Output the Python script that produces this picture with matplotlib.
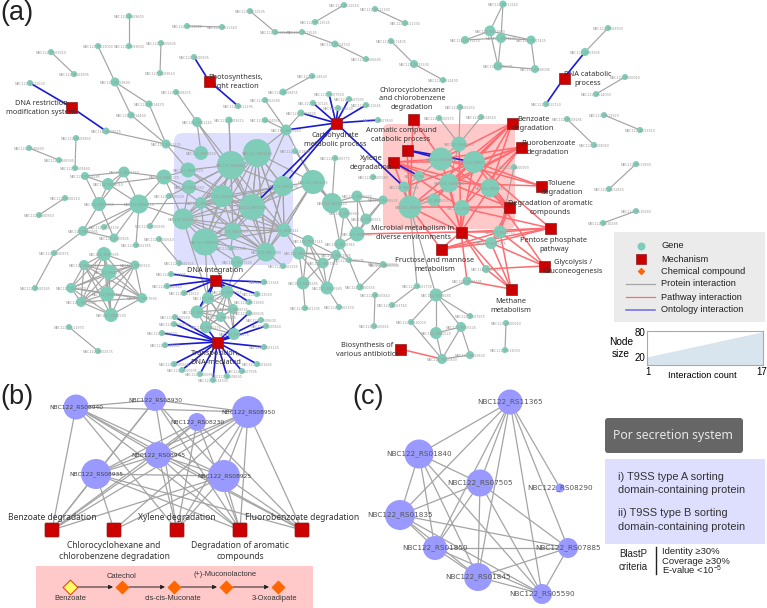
import itertools
import matplotlib
matplotlib.use('Agg')
import matplotlib.pyplot as plt
from matplotlib.collections import LineCollection
from matplotlib.patches import FancyBboxPatch, Rectangle

# Panel (a): gene nodes, grouped by neighbourhood. Positions in pixels.
far_names = ['09605', '09600', '13000', '13890', '05605', '09610', '03910', '03905', '12530', '14470',
             '14460', '08515', '11225', '09465', '09460', '06890', '06995', '11880', '11340', '00935',
             '11295', '08255', '01245', '09415', '04930', '02280', '14630', '08455', '12535', '13525',
             '13535', '12540', '13545', '04730', '06895', '11100', '11335', '11405', '12390', '12400',
             '09240', '07930', '07935', '10125', '11645', '08630', '09835', '07890', '01890', '00775',
             '00580']
far_x = [129, 129, 98, 115, 161, 160, 51, 74, 30, 149, 131, 106, 166, 76, 75, 29, 59, 187, 222, 194,
         238, 176, 197, 229, 265, 265, 312, 283, 250, 275, 315, 344, 302, 335, 366, 375, 405, 391, 414, 443,
         286, 329, 349, 313, 366, 338, 301, 378, 295, 335, 373]
far_y = [16, 46, 46, 82, 43, 73, 52, 74, 83, 104, 115, 131, 144, 138, 168, 148, 160, 26, 27, 57,
         106, 92, 122, 120, 120, 100, 76, 92, 11, 32, 22, 5, 32, 44, 59, 9, 23, 41, 64, 80,
         130, 94, 99, 103, 105, 108, 113, 120, 151, 158, 177]
far_size = [6, 6, 6, 9, 6, 6, 6, 6, 6, 7, 7, 7, 9, 6, 6, 6, 6, 6, 6, 6,
            6, 6, 10, 7, 6, 6, 6, 7, 6, 6, 6, 6, 6, 7, 6, 6, 6, 6, 8, 6,
            11, 6, 6, 6, 6, 6, 7, 6, 6, 6, 6]

right_names = ['11240', '12600', '01265', '11250', '07425', '08005', '08095', '03930', '03935', '12750',
               '00040', '14030', '13920', '13910', '09185', '09040', '13830', '12825', '10280', '10285']
right_x = [503, 490, 501, 465, 531, 498, 535, 608, 585, 546, 625, 596, 604, 640, 567, 594, 636, 609, 636, 603]
right_y = [4, 31, 38, 40, 40, 66, 69, 28, 52, 104, 77, 94, 115, 130, 119, 145, 164, 189, 211, 223]
right_size = [7, 11, 10, 8, 9, 9, 8, 6, 8, 6, 6, 6, 6, 6, 6, 6, 6, 6, 6, 6]

left_names = ['06285', '01360', '03010', '01355', '00615', '06310', '00910', '00905', '03190', '00805',
              '00895', '01785', '00640', '00275', '00315', '07695', '03245', '07700', '00310', '00185',
              '01920', '00123', '07860', '07695b', '00590', '11970', '02675', '00300']
left_x = [85, 124, 108, 99, 139, 65, 39, 83, 104, 114, 150, 136, 159, 54, 179, 104, 84, 109, 135, 35,
          71, 107, 81, 142, 111, 69, 98, 169]
left_y = [176, 172, 184, 204, 204, 198, 215, 231, 227, 238, 226, 245, 239, 253, 263, 254, 265, 272, 265, 288,
          288, 294, 302, 298, 315, 327, 351, 196]
left_size = [8, 11, 12, 14, 19, 6, 6, 10, 6, 9, 6, 6, 6, 6, 6, 14, 10, 15, 9, 6,
             10, 15, 10, 10, 14, 6, 6, 6]

purple_names = ['01845', '01840', '01850', '05670', '05650', '01375', '01270', '06080', '07505', '01390',
                '11185', '01835', '07885', '00141', '05590', '07900', '07525', '01380', '01925']
purple_x = [231, 257, 201, 188, 189, 164, 201, 222, 252, 283, 313, 183, 233, 284, 205, 266, 237, 231, 283]
purple_y = [165, 153, 153, 170, 187, 177, 203, 196, 207, 186, 182, 219, 231, 230, 242, 252, 262, 248, 266]
purple_size = [28, 28, 14, 15, 14, 15, 12, 22, 26, 20, 24, 21, 17, 14, 27, 19, 12, 5, 6]

mid_names = ['06925', '06930', '06940', '06915', '06920', '06945', '01145', '01280', '07340', '01535',
             '08505', '00955', '03285', '08285', '01195', '01370']
mid_x = [332, 357, 344, 366, 357, 340, 308, 299, 323, 336, 349, 383, 303, 327, 305, 339]
mid_y = [203, 196, 213, 219, 234, 244, 241, 253, 263, 255, 260, 264, 283, 288, 308, 307]
mid_size = [20, 11, 11, 11, 15, 11, 12, 13, 11, 10, 6, 6, 13, 13, 6, 6]

red_names = ['08950', '08925', '08945', '08940', '08935', '08930', '08230', '05655', '05325', '05255',
             '00975', '14640', '00970', '06580', '06175', '00515', '04305', '00661', '08505b', '00580b']
red_x = [441, 474, 449, 490, 410, 462, 459, 434, 419, 460, 439, 481, 514, 500, 491, 486, 467, 404, 383, 384]
red_y = [159, 162, 183, 188, 207, 208, 144, 200, 176, 107, 118, 117, 167, 232, 243, 269, 281, 187, 200, 265]
red_size = [23, 22, 19, 19, 23, 16, 15, 13, 10, 6, 6, 6, 6, 13, 12, 8, 9, 11, 9, 6]

low_names = ['01730', '03740', '09285', '10050', '07975', '00126', '00520', '00830', '09830', '00555',
             '00840', '00845', '00910b', '13030']
low_x = [417, 392, 436, 411, 470, 461, 436, 442, 470, 360, 375, 374, 506, 505]
low_y = [286, 305, 295, 322, 316, 327, 333, 359, 355, 287, 295, 326, 323, 350]
low_size = [6, 6, 13, 6, 6, 10, 12, 10, 8, 7, 6, 6, 6, 6]

dna_names = ['11905', '00840b', '12612', '11365b', '13540', '08765', '01305', '11880b', '08755', '07975b',
             '08685', '00605', '08600', '00860', '00580c', '00590b', '06870', '00260', '08175', '03125',
             '00560', '00995', '00950', '14300', '08680', '07995', '01665', '06275']
dna_x = [171, 167, 184, 264, 257, 227, 208, 249, 233, 197, 221, 249, 261, 266, 175, 174, 162, 165, 234, 264,
         174, 182, 200, 213, 227, 242, 257, 206]
dna_y = [274, 286, 293, 282, 294, 292, 298, 302, 309, 312, 317, 313, 320, 326, 317, 324, 333, 345, 334, 347,
         364, 370, 374, 380, 376, 371, 364, 327]
dna_size = [6, 6, 6, 6, 6, 13, 12, 6, 10, 13, 10, 6, 6, 6, 6, 6, 6, 6, 12, 6,
            6, 6, 6, 6, 6, 6, 6, 12]

# Mechanism nodes of panel (a)
mech_names = ['restriction', 'photo', 'carb', 'rna', 'chloro', 'benzoate', 'fluoro', 'aromatic', 'xylene',
              'toluene', 'degr', 'microbial', 'pentose', 'glyco', 'fructose', 'methane', 'biosyn',
              'integration', 'transposition']
mech_x = [71, 209, 336, 564, 413, 512, 521, 407, 393, 541, 509, 461, 550, 544, 441, 511, 400, 215, 217]
mech_y = [107, 81, 123, 78, 119, 123, 147, 150, 162, 186, 207, 232, 228, 266, 249, 289, 349, 280, 342]

mech_labels = ['DNA restriction\nmodification system', 'Photosynthesis,\nlight reaction',
               'Carbohydrate\nmetabolic process', 'RNA catabolic\nprocess',
               'Chlorocyclohexane\nand chlorobenzene\ndegradation', 'Benzoate\ndegradation',
               'Fluorobenzoate\ndegradation', 'Aromatic compound\ncatabolic process', 'Xylene\ndegradation',
               'Toluene\ndegradation', 'Degradation of aromatic\ncompounds',
               'Microbial metabolism in\ndiverse environments', 'Pentose phosphate\npathway',
               'Glycolysis /\nGluconeogenesis', 'Fructose and mannose\nmetabolism', 'Methane\nmetabolism',
               'Biosynthesis of\nvarious antibiotics', 'DNA integration', 'Transposition,\nDNA-mediated']
mech_label_x = [41, 236, 335, 588, 412, 533, 548, 401, 371, 562, 550, 413, 554, 573, 435, 511, 367, 215, 216]
mech_label_y = [108, 82, 140, 79, 99, 124, 148, 135, 163, 188, 208, 233, 245, 267, 265, 306, 350, 270, 358]

# Edges of panel (a)
protein_edges = [
    ('09605', '09600'), ('13000', '13890'), ('13890', '14460'), ('13890', '14470'), ('14470', '11225'),
    ('14460', '11225'), ('08515', '11225'), ('03910', '03905'), ('05605', '09610'), ('09465', '09460'),
    ('06890', '06995'), ('11880', '11340'), ('08255', '01245'), ('02280', '09240'), ('04930', '09240'),
    ('09835', '09240'), ('14630', '08455'), ('12535', '13525'), ('13535', '12540'), ('13525', '13545'),
    ('13545', '04730'), ('04730', '06895'), ('11100', '11335'), ('11405', '12390'), ('12390', '12400'),
    ('11240', '12600'), ('11240', '01265'), ('12600', '11250'), ('12600', '07425'), ('12600', '08005'),
    ('01265', '08005'), ('11250', '01265'), ('01265', '07425'), ('07425', '08095'), ('08005', '08095'),
    ('03930', '03935'), ('00040', '14030'), ('13920', '13910'), ('09185', '09040'), ('13830', '12825'),
    ('10280', '10285'), ('01245', '01850'), ('01245', '01845'), ('01245', '07505'), ('09415', '01845'),
    ('09415', '07885'), ('09240', '01840'), ('09240', '07505'), ('09240', '11185'), ('11225', '01850'),
    ('11225', '05670'), ('01375', '05670'), ('01375', '05650'), ('01375', '01835'), ('01375', '01270'),
    ('06285', '01360'), ('01360', '01375'), ('03010', '01375'), ('06285', '03010'), ('03010', '01360'),
    ('01355', '03010'), ('00615', '01360'), ('00615', '03010'), ('00615', '01375'), ('00615', '01835'),
    ('00615', '01270'), ('01355', '00615'), ('01355', '01360'), ('01355', '06285'), ('01355', '00805'),
    ('00615', '00805'), ('00615', '01785'), ('00905', '01355'), ('00905', '00615'), ('00905', '00805'),
    ('00905', '00275'), ('00275', '00185'), ('06310', '00910'), ('03190', '00615'), ('00640', '00315'),
    ('00895', '00300'), ('11970', '02675'), ('07525', '05590'), ('07525', '07900'), ('07885', '01380'),
    ('01925', '07900'), ('07525', '01380'), ('11185', '06925'), ('11185', '06940'), ('11185', '00141'),
    ('06925', '06930'), ('06925', '06940'), ('06930', '06915'), ('06930', '06920'), ('06940', '06920'),
    ('06940', '06945'), ('06915', '06920'), ('06920', '06945'), ('06925', '06945'), ('01890', '06925'),
    ('00775', '06925'), ('08505b', '06920'), ('08505b', '06930'), ('08505b', '06915'), ('08505b', '06925'),
    ('06945', '01535'), ('06945', '08505'), ('01145', '03285'), ('01145', '08285'), ('01280', '03285'),
    ('01280', '08285'), ('07340', '03285'), ('07340', '08285'), ('01535', '08285'), ('01535', '07340'),
    ('01145', '07340'), ('01280', '07340'), ('01535', '08505'), ('08505', '00555'), ('00555', '00955'),
    ('08505', '00955'), ('01280', '01535'), ('01145', '01535'), ('03285', '01195'), ('08285', '01370'),
    ('01145', '00141'), ('01280', '00141'), ('05255', '08230'), ('00975', '08230'), ('14640', '08230'),
    ('00970', '06580'), ('08935', '01730'), ('08935', '09285'), ('06580', '06175'), ('08230', '08945'),
    ('08230', '05325'), ('05655', '08945'), ('05655', '08935'), ('05325', '00661'), ('05325', '08935'),
    ('00661', '08935'), ('09285', '04305'), ('09285', '10050'), ('09285', '00520'), ('09285', '07975'),
    ('09285', '00126'), ('10050', '00830'), ('00520', '00830'), ('00520', '00126'), ('00126', '00830'),
    ('00126', '09830'), ('00830', '09830'), ('01730', '03740'), ('00840', '00845'), ('00910b', '13030'),
    ('01845', '00300'), ('01380', '01835'), ('07885', '05590'), ('07885', '07900'), ('07525', '08765'),
    ('05590', '01305'), ('05590', '08765'), ('07900', '08765'), ('01835', '01305'), ('05670', '01845'),
    ('05670', '06080'), ('05650', '01845'), ('05650', '07505'), ('05650', '01835'), ('05670', '07505'),
]
# Groups that are linked almost all with all
protein_groups = [
    ['01845', '01840', '01270', '06080', '07505', '01390', '01835', '07885', '00141', '05590', '07900'],
    ['11185', '01840', '07505', '01390', '07900', '00141'],
    ['07695', '03245', '07700', '00310', '01920', '00123', '07860', '07695b', '00590'],
    ['08765', '01305', '08755', '07975b', '08685', '06275', '08175'],
]
ontology_edges = [
    ('restriction', '12530'), ('restriction', '08515'), ('photo', '00935'), ('photo', '11295'),
    ('rna', '03935'), ('rna', '12750'), ('carb', '10125'), ('carb', '07930'), ('carb', '07935'),
    ('carb', '11645'), ('carb', '08630'), ('carb', '09835'), ('carb', '09240'), ('carb', '07890'),
    ('carb', '01390'), ('carb', '07505'), ('carb', '00661'), ('xylene', '05325'), ('aromatic', '08950'),
    ('aromatic', '08925'),
    ('integration', '11905'), ('integration', '00840b'), ('integration', '12612'), ('integration', '11365b'),
    ('integration', '13540'), ('integration', '08765'), ('integration', '01305'), ('integration', '07975b'),
    ('integration', '11880b'),
    ('transposition', '00580c'), ('transposition', '00590b'), ('transposition', '06870'),
    ('transposition', '00260'), ('transposition', '03125'), ('transposition', '00560'),
    ('transposition', '00995'), ('transposition', '00950'), ('transposition', '14300'),
    ('transposition', '08680'), ('transposition', '07995'), ('transposition', '01665'),
    ('transposition', '00860'), ('transposition', '08600'), ('transposition', '00605'),
    ('transposition', '08175'), ('transposition', '06275'),
]
pathway_hubs = ['08950', '08925', '08945', '08940', '08935', '08930']
pathway_mechs = ['benzoate', 'fluoro', 'degr', 'microbial', 'xylene']
pathway_edges = [
    ('chloro', '08950'), ('chloro', '08935'), ('aromatic', '08935'), ('toluene', '08950'), ('toluene', '08925'),
    ('toluene', '08945'), ('microbial', '06920'), ('microbial', '08230'), ('microbial', '05655'),
    ('microbial', '06580'), ('microbial', '06175'), ('microbial', '00515'), ('microbial', '04305'),
    ('microbial', 'methane'), ('microbial', 'pentose'), ('microbial', 'fructose'),
    ('fructose', '08935'), ('fructose', '06580'), ('fructose', '06175'), ('fructose', 'pentose'),
    ('pentose', '06580'), ('pentose', '06175'), ('pentose', '08930'), ('pentose', '08925'),
    ('glyco', '06580'), ('glyco', '06175'), ('glyco', '00515'), ('glyco', '08940'),
    ('methane', '06580'), ('methane', '06175'), ('methane', '00515'), ('methane', '04305'),
    ('biosyn', '00830'), ('degr', '06175'), ('degr', '06580'), ('fluoro', '00661'), ('benzoate', '05655'),
]

# Panel (b)
b_genes = ['08940', '08930', '08950', '08230', '08945', '08935', '08925']
b_x = [76, 155, 248, 197, 158, 96, 224]
b_y = [407, 400, 412, 422, 455, 474, 476]
b_size = [25, 22, 32, 18, 26, 30, 32]
b_gene_edges = [(0, 1), (0, 2), (1, 2), (0, 4), (2, 4), (1, 5), (3, 4), (5, 6), (4, 5), (4, 6), (2, 5),
                (2, 6), (0, 6), (1, 6), (3, 5)]
b_mechs = ['Benzoate degradation', 'Chlorocyclohexane and\nchlorobenzene degradation', 'Xylene degradation',
           'Degradation of aromatic\ncompounds', 'Fluorobenzoate degradation']
b_mech_x = [52, 114, 177, 240, 302]
b_mech_y = 530
b_mech_label_y = [518, 551, 518, 551, 518]
b_cross_edges = [(0, 0), (0, 3), (0, 2), (1, 2), (1, 3), (1, 0), (2, 0), (2, 1), (2, 2), (2, 3), (2, 4),
                 (3, 0), (3, 2), (3, 3), (3, 4), (4, 0), (4, 2), (4, 3), (4, 4), (5, 0), (5, 1), (5, 3),
                 (5, 4), (6, 0), (6, 1), (6, 2), (6, 3), (6, 4), (0, 4)]

compounds = ['Benzoate', 'Catechol', 'cis-cis-Muconate', '(+)-Muconolactone', '3-Oxoadipate']
compound_x = [70, 122, 174, 226, 278]
compound_label_x = [70, 122, 173, 225, 275]
compound_label_y = [598, 576, 598, 575, 598]

# Panel (c)
c_genes = ['11365', '01840', '07505', '08290', '01835', '01850', '07885', '01845', '05590']
c_x = [510, 419, 480, 560, 400, 435, 568, 478, 542]
c_y = [402, 454, 483, 488, 515, 548, 548, 577, 594]
c_size = [25, 29, 27, 9, 30, 24, 20, 28, 20]
c_missing = [(1, 6), (3, 1), (3, 2), (3, 4), (3, 5), (3, 6), (3, 7), (3, 8)]

# Node size key
interaction_count = [1, 17]
node_size = [20, 80]

legend_names = ['Gene', 'Mechanism', 'Chemical compound', 'Protein interaction', 'Pathway interaction',
                'Ontology interaction']
legend_y = [246, 259, 271, 284, 297, 310]

GENE = '#7fcdb8'
MECH = '#cc0000'
PURPLE = '#9999ff'
GREY = '#a4a4a4'
RED = '#ff6b70'
BLUE = '#1a1ad6'
ORANGE = '#ff6600'
TEXT_FONT = ['Noto Sans', 'DejaVu Sans']
SANS = ['Liberation Sans', 'DejaVu Sans']

plt.rcParams['mathtext.default'] = 'regular'


def area(d):
    # pixel diameter to scatter area at 100 dpi
    return (d * 0.72) ** 2


fig = plt.figure(figsize=(7.67, 6.08), dpi=100)
ax = fig.add_axes([0, 0, 1, 1])
ax.set_xlim(0, 767)
ax.set_ylim(608, 0)
ax.axis('off')

# build the position table of panel (a)
pos = {}
groups = [(far_names, far_x, far_y, far_size), (right_names, right_x, right_y, right_size),
          (left_names, left_x, left_y, left_size), (purple_names, purple_x, purple_y, purple_size),
          (mid_names, mid_x, mid_y, mid_size), (red_names, red_x, red_y, red_size),
          (low_names, low_x, low_y, low_size), (dna_names, dna_x, dna_y, dna_size)]
for names, xs, ys, sizes in groups:
    for n, x, y, s in zip(names, xs, ys, sizes):
        pos[n] = (x, y, s)
for n, x, y in zip(mech_names, mech_x, mech_y):
    pos[n] = (x, y, 11)

# shaded regions behind the two modules
ax.add_patch(FancyBboxPatch((180, 139), 107, 120, boxstyle='round,pad=6,rounding_size=9',
                            fc='#dedeff', ec='none', zorder=1))
ax.add_patch(FancyBboxPatch((388, 129), 122, 95, boxstyle='round,pad=5,rounding_size=6',
                            fc='#ffc9c9', ec='none', zorder=1))


def seg(a, b):
    return [pos[a][:2], pos[b][:2]]


grey_segs = [seg(a, b) for a, b in protein_edges]
for grp in protein_groups:
    grey_segs += [seg(a, b) for a, b in itertools.combinations(grp, 2)]
red_segs = [seg(a, b) for a, b in pathway_edges]
red_segs += [seg(m, h) for m in pathway_mechs for h in pathway_hubs]
blue_segs = [seg(a, b) for a, b in ontology_edges]
ax.add_collection(LineCollection(grey_segs, colors=GREY, linewidths=0.85, zorder=2))
ax.add_collection(LineCollection(red_segs, colors=RED, linewidths=1.1, zorder=3))
ax.add_collection(LineCollection(blue_segs, colors=BLUE, linewidths=1.2, zorder=3))

# gene nodes and their tiny labels
for names, xs, ys, sizes in groups:
    ax.scatter(xs, ys, s=[area(d) for d in sizes], c=GENE, linewidths=0, zorder=4)
    for n, x, y in zip(names, xs, ys):
        ax.text(x, y, 'NBC122_RS' + n.rstrip('bc'), fontsize=2.4, color='#9a9a9a',
                ha='center', va='center', zorder=5)

ax.scatter(mech_x, mech_y, marker='s', s=area(11), c=MECH, edgecolors='#8a2020', linewidths=0.5, zorder=6)
for t, x, y in zip(mech_labels, mech_label_x, mech_label_y):
    ax.text(x, y, t, fontsize=5.3, family=TEXT_FONT, color='#333333', ha='center', va='center',
            linespacing=1.28, zorder=7)

# legend block
ax.add_patch(Rectangle((614, 232), 151, 90, fc='#ebebeb', ec='none', zorder=1))
ax.scatter([641], [legend_y[0]], s=area(8), c=GENE, linewidths=0, zorder=4)
ax.scatter([641], [legend_y[1]], marker='s', s=area(10.5), c=MECH, edgecolors='#8a2020', linewidths=0.5, zorder=4)
ax.scatter([641], [legend_y[2]], marker='D', s=area(5.5), c=ORANGE, linewidths=0, zorder=4)
ax.plot([626, 655], [legend_y[3]] * 2, color=GREY, lw=0.9, zorder=4)
ax.plot([626, 655], [legend_y[4]] * 2, color=RED, lw=0.9, zorder=4)
ax.plot([626, 655], [legend_y[5]] * 2, color='#6a6ae0', lw=1.1, zorder=4)
for t, y in zip(legend_names, legend_y):
    ax.text(661, y, t, fontsize=6.7, family=SANS, color='#222222', ha='left', va='center', zorder=5)

# node size key
key = fig.add_axes([647 / 767, 1 - 365 / 608, 116 / 767, 34 / 608])
key.fill_between(interaction_count, node_size, 0, color='#d9e5ee', lw=0)
key.set_xlim(1, 17)
key.set_ylim(0.8, 81.5)
key.set_xticks([])
key.set_yticks([])
for sp in key.spines.values():
    sp.set_color('#a9a9a9')
    sp.set_linewidth(0.8)
ax.text(645, 333, '80', fontsize=7, family=SANS, ha='right', va='center')
ax.text(645, 358, '20', fontsize=7, family=SANS, ha='right', va='center')
ax.text(621, 348, 'Node\nsize', fontsize=7.3, family=SANS, ha='center', va='center', linespacing=1.25)
ax.text(648, 372, '1', fontsize=7, family=SANS, ha='center', va='center')
ax.text(762, 372, '17', fontsize=7, family=SANS, ha='center', va='center')
ax.text(702, 375, 'Interaction count', fontsize=6.7, family=SANS, ha='center', va='center')

# panel (b)
b_segs = [[(b_x[i], b_y[i]), (b_x[j], b_y[j])] for i, j in b_gene_edges]
b_segs += [[(b_x[i], b_y[i]), (b_mech_x[j], b_mech_y)] for i, j in b_cross_edges]
ax.add_collection(LineCollection(b_segs, colors=GREY, linewidths=0.9, zorder=2))
ax.scatter(b_x, b_y, s=[area(d) for d in b_size], c=PURPLE, linewidths=0, zorder=3)
for g, x, y in zip(b_genes, b_x, b_y):
    ax.text(x, y, 'NBC122_RS' + g, fontsize=4.3, color='#444444', ha='center', va='center', zorder=4)
for x, lab, ly in zip(b_mech_x, b_mechs, b_mech_label_y):
    ax.add_patch(FancyBboxPatch((x - 6.5, b_mech_y - 6.5), 13, 13, boxstyle='round,pad=0.5,rounding_size=1',
                                fc=MECH, ec='#8a2020', lw=0.5, zorder=4))
    ax.text(x, ly, lab, fontsize=6.1, family=TEXT_FONT, color='#333333', ha='center', va='center',
            linespacing=1.2, zorder=5)

# pathway strip
ax.add_patch(Rectangle((36, 566), 277, 42, fc='#ffc9c9', ec='none', zorder=1))
for x0, x1 in zip(compound_x[:-1], compound_x[1:]):
    ax.annotate('', xy=(x1 - 9, 587), xytext=(x0 + 7, 587), zorder=2,
                arrowprops=dict(arrowstyle='-|>', color='#222222', lw=0.7, mutation_scale=6, shrinkA=0, shrinkB=0))
ax.scatter(compound_x[0], 587, marker='D', s=area(10.5), c='#ffff66', edgecolors='#ee3300', linewidths=0.7, zorder=3)
ax.scatter(compound_x[1:], [587] * 4, marker='D', s=area(10), c=ORANGE, linewidths=0, zorder=3)
for t, x, y in zip(compounds, compound_label_x, compound_label_y):
    ax.text(x, y, t, fontsize=5.4, family=SANS, color='#333333', ha='center', va='center', zorder=4)

# panel (c)
c_segs = []
for i, j in itertools.combinations(range(len(c_genes)), 2):
    if (i, j) in c_missing or (j, i) in c_missing:
        continue
    c_segs.append([(c_x[i], c_y[i]), (c_x[j], c_y[j])])
ax.add_collection(LineCollection(c_segs, colors=GREY, linewidths=0.9, zorder=2))
ax.scatter(c_x, c_y, s=[area(d) for d in c_size], c=PURPLE, linewidths=0, zorder=3)
for g, x, y in zip(c_genes, c_x, c_y):
    ax.text(x, y, 'NBC122_RS' + g, fontsize=5.2, color='#555555', ha='center', va='center', zorder=4)

ax.add_patch(FancyBboxPatch((607, 420), 134, 31, boxstyle='round,pad=2,rounding_size=3', fc='#666666', ec='none', zorder=1))
ax.text(673, 436, 'Por secretion system', fontsize=8.8, family=TEXT_FONT, color='#e8e8e8', ha='center', va='center', zorder=2)
ax.add_patch(Rectangle((605, 459), 160, 85, fc='#dedeff', ec='none', zorder=1))
for t, y in zip(['i) T9SS type A sorting', 'domain-containing protein', 'ii) T9SS type B sorting',
                 'domain-containing protein'], [477, 490, 513, 527]):
    ax.text(618, y, t, fontsize=7.9, family=SANS, color='#333333', ha='left', va='center', zorder=2)
ax.text(633, 554, 'BlastP', fontsize=7, family=SANS, color='#222222', ha='center', va='center')
ax.text(633, 567, 'criteria', fontsize=7, family=SANS, color='#222222', ha='center', va='center')
ax.plot([656, 656], [547, 574], color='#222222', lw=1)
for t, y in zip(['Identity ≥30%', 'Coverage ≥30%', 'E-value <10$^{-5}$'], [552, 561, 570]):
    ax.text(662, y, t, fontsize=6.8, family=SANS, color='#222222', ha='left', va='center')

# panel letters
for t, x, y in zip(['(a)', '(b)', '(c)'], [0, 0, 352], [13, 397, 397]):
    ax.text(x, y, t, fontsize=19.5, family=SANS, color='#222222', ha='left', va='center')

fig.savefig('out.png', dpi=100)
